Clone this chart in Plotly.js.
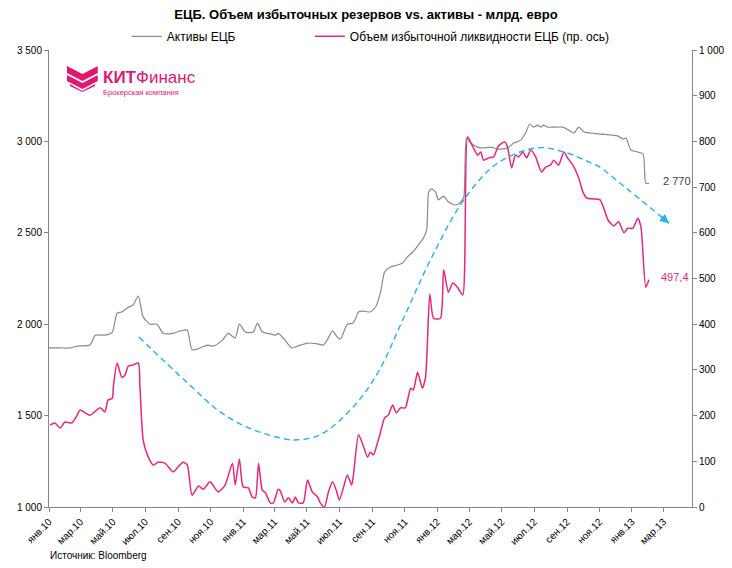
<!DOCTYPE html>
<html>
<head>
<meta charset="utf-8">
<script src="https://cdn.plot.ly/plotly-3.0.1.min.js"></script>
<style>html,body{margin:0;padding:0;background:#fff}#chart{width:732px;height:568px}</style>
</head>
<body>
<div id="chart"></div>
<script>
// ---- Data (млрд. евро) ----
const assetDates = ['2010-01-01','2010-01-22','2010-02-10','2010-02-23','2010-03-19','2010-03-29','2010-04-16','2010-04-30','2010-05-09','2010-05-18','2010-05-28','2010-06-08','2010-06-18','2010-06-27','2010-07-10','2010-07-23','2010-08-04','2010-08-22','2010-09-05','2010-09-18','2010-09-27','2010-10-12','2010-10-26','2010-11-06','2010-11-23','2010-12-04','2010-12-17','2010-12-25','2011-01-05','2011-01-20','2011-01-28','2011-02-06','2011-02-17','2011-03-03','2011-03-08','2011-03-21','2011-04-02','2011-04-13','2011-05-02','2011-05-21','2011-06-01','2011-06-08','2011-06-18','2011-06-27','2011-07-03','2011-07-16','2011-07-27','2011-08-06','2011-08-15','2011-08-28','2011-09-07','2011-09-16','2011-09-24','2011-10-05','2011-10-18','2011-10-28','2011-11-06','2011-11-16','2011-11-25','2011-12-06','2011-12-12','2011-12-16','2011-12-21','2011-12-29','2012-01-03','2012-01-13','2012-01-22','2012-02-05','2012-02-14','2012-02-20','2012-02-25','2012-03-04','2012-03-17','2012-03-28','2012-04-10','2012-04-24','2012-05-12','2012-05-24','2012-06-06','2012-06-15','2012-06-23','2012-06-30','2012-07-08','2012-07-14','2012-07-19','2012-07-27','2012-08-07','2012-08-24','2012-09-04','2012-09-14','2012-09-23','2012-10-03','2012-10-16','2012-11-04','2012-11-22','2012-12-06','2012-12-15','2012-12-21','2012-12-30','2013-01-12','2013-01-22','2013-01-27','2013-02-02'];
const assetValues = [1870,1870,1870,1880,1886,1940,1940,1957,2060,2067,2089,2105,2154,2040,2000,2000,1950,1950,1963,1968,1860,1870,1886,1880,1913,1950,1925,2000,1957,1957,2006,1957,1950,1940,1950,1913,1870,1880,1897,1892,1886,1913,1963,1930,1919,2000,2006,2067,2072,2067,2094,2170,2285,2313,2324,2335,2368,2395,2428,2471,2515,2723,2740,2723,2680,2701,2668,2652,2668,2696,3018,2991,2969,2964,2969,2958,2964,2991,3007,3046,3095,3078,3089,3078,3089,3078,3078,3078,3062,3046,3078,3051,3046,3040,3035,3029,3013,3018,2953,2942,2931,2772,2770];

const liqDates = ['2010-01-03','2010-01-12','2010-01-22','2010-01-31','2010-02-13','2010-02-23','2010-02-28','2010-03-19','2010-04-07','2010-04-16','2010-04-22','2010-04-30','2010-05-02','2010-05-09','2010-05-18','2010-05-24','2010-05-30','2010-06-08','2010-06-18','2010-06-21','2010-06-27','2010-07-05','2010-07-16','2010-07-25','2010-08-07','2010-08-22','2010-09-01','2010-09-10','2010-09-18','2010-09-27','2010-10-09','2010-10-18','2010-10-31','2010-11-15','2010-11-28','2010-12-12','2010-12-17','2010-12-25','2011-01-01','2011-01-11','2011-01-18','2011-01-24','2011-01-30','2011-02-06','2011-02-12','2011-02-21','2011-02-27','2011-03-08','2011-03-12','2011-03-20','2011-03-27','2011-04-04','2011-04-09','2011-04-15','2011-04-24','2011-05-02','2011-05-11','2011-05-21','2011-05-26','2011-06-03','2011-06-10','2011-06-18','2011-06-25','2011-07-01','2011-07-09','2011-07-16','2011-07-24','2011-07-27','2011-08-06','2011-08-13','2011-08-23','2011-08-28','2011-09-03','2011-09-11','2011-09-16','2011-09-24','2011-10-01','2011-10-09','2011-10-16','2011-10-24','2011-11-02','2011-11-12','2011-11-17','2011-11-25','2011-12-04','2011-12-10','2011-12-18','2011-12-25','2012-01-07','2012-01-13','2012-01-22','2012-01-30','2012-02-08','2012-02-18','2012-02-27','2012-03-08','2012-03-17','2012-03-23','2012-03-28','2012-04-07','2012-04-16','2012-04-25','2012-05-07','2012-05-12','2012-05-20','2012-05-27','2012-06-02','2012-06-10','2012-06-17','2012-06-25','2012-07-04','2012-07-15','2012-07-23','2012-08-01','2012-08-07','2012-08-16','2012-08-26','2012-09-02','2012-09-12','2012-09-23','2012-10-01','2012-10-08','2012-10-21','2012-11-02','2012-11-09','2012-11-17','2012-11-28','2012-12-07','2012-12-17','2012-12-24','2013-01-03','2013-01-12','2013-01-18','2013-01-27','2013-02-02'];
const liqValues = [179,184,173,186,184,201,212,201,217,208,234,238,263,315,284,289,308,311,315,263,147,114,92,98,96,77,88,98,92,26,46,39,55,33,48,96,48,105,44,42,22,20,96,37,31,9,9,39,35,11,20,9,22,9,9,59,33,22,9,0,31,55,37,15,44,70,48,66,158,140,109,120,114,142,162,195,201,223,206,217,217,260,256,295,260,284,466,413,413,519,470,490,481,464,810,788,770,777,759,764,766,790,799,788,742,770,766,777,764,781,766,733,744,748,759,748,777,764,748,720,689,676,674,672,654,628,615,624,600,610,610,632,613,481,497.4];

// hand-drawn trend arrow (right axis units)
const trendDates = ['2010-06-19','2010-09-18','2010-11-19','2011-01-20','2011-03-25','2011-04-13','2011-05-26','2011-07-27','2011-09-11','2011-10-30','2011-12-19','2012-02-20','2012-04-24','2012-07-08','2012-08-26','2012-10-16','2012-11-04','2012-12-07','2013-01-05','2013-03-12'];
const trendValues = [372,272,208,169,148,147,158,219,293,414,540,672,753,786,777,753,742,711,684,621];

const tickDates = ['2010-01-01','2010-03-01','2010-05-01','2010-07-01','2010-09-01','2010-11-01','2011-01-01','2011-03-01','2011-05-01','2011-07-01','2011-09-01','2011-11-01','2012-01-01','2012-03-01','2012-05-01','2012-07-01','2012-09-01','2012-11-01','2013-01-01','2013-03-01'];
const tickLabels = ['янв.10','мар.10','май.10','июл.10','сен.10','ноя.10','янв.11','мар.11','май.11','июл.11','сен.11','ноя.11','янв.12','мар.12','май.12','июл.12','сен.12','ноя.12','янв.13','мар.13'];

const seriesNames = ['Активы ЕЦБ', 'Объем избыточной ликвидности ЕЦБ (пр. ось)'];

// ---- Styling ----
const FONT = 'Liberation Sans, Arial, sans-serif';
const GRAY = '#8a8a8a';
const PINK = '#e8267c';
const BLUE = '#22b2ec';
const AXIS = '#868686';

function fmt(v) {
  const s = String(v).split('.');
  const int = s[0].replace(/\B(?=(\d{3})+(?!\d))/g, ' ');
  return s.length > 1 ? int + ',' + s[1] : int;
}

const lastA = assetValues.length - 1;
const lastL = liqValues.length - 1;
const lastT = trendValues.length - 1;

const traces = [
  {x: assetDates, y: assetValues, name: seriesNames[0], type: 'scatter', mode: 'lines', legendwidth: 138,
   line: {color: GRAY, width: 1.2, shape: 'spline', smoothing: 0.6}, yaxis: 'y', hoverinfo: 'skip'},
  {x: liqDates, y: liqValues, name: seriesNames[1], type: 'scatter', mode: 'lines', legendwidth: 280,
   line: {color: PINK, width: 1.5, shape: 'spline', smoothing: 0.6}, yaxis: 'y2', hoverinfo: 'skip'},
  {x: trendDates, y: trendValues, type: 'scatter', mode: 'lines', showlegend: false,
   line: {color: BLUE, width: 1.4, dash: '6px,4px', shape: 'spline', smoothing: 1}, yaxis: 'y2', hoverinfo: 'skip'}
];

const logoSvg = '<svg xmlns="http://www.w3.org/2000/svg" viewBox="0 0 32 26">' +
  '<path fill="#e2176f" d="M0,0 L16,8 L32,0 L32,7 L16,15 L0,7 Z"/>' +
  '<path fill="#e2176f" d="M0,9 L16,17 L32,9 L32,15 L16,23 L0,15 Z"/>' +
  '<path fill="#e2176f" d="M3,18 L16,25 L29,18 L29,20 L16,26 L3,20 Z"/>' +
  '</svg>';

const layout = {
  width: 732, height: 568,
  margin: {l: 49, r: 40, t: 50, b: 61},
  paper_bgcolor: '#fff', plot_bgcolor: '#fff',
  separators: ', ',
  font: {family: FONT, size: 10, color: '#000'},
  title: {text: '<b>ЕЦБ. Объем избыточных резервов vs. активы - млрд. евро</b>',
          font: {family: FONT, size: 13, color: '#000'},
          x: 0.5, xref: 'container', y: 0.975, yref: 'container', yanchor: 'middle'},
  showlegend: true,
  legend: {orientation: 'h', x: 0.121, xanchor: 'left', y: 1.03, yanchor: 'middle',
           font: {family: FONT, size: 12, color: '#000'}, bgcolor: 'rgba(0,0,0,0)'},
  xaxis: {type: 'date', range: ['2010-01-01', '2013-04-24'],
          tickvals: tickDates, ticktext: tickLabels, tickangle: -45,
          ticks: 'outside', ticklen: 4, tickcolor: AXIS, showline: true, linecolor: AXIS, linewidth: 1,
          showgrid: false, zeroline: false, tickfont: {family: FONT, size: 10, color: '#000'}},
  yaxis: {range: [1000, 3500], tick0: 1000, dtick: 500, tickformat: ',',
          ticks: 'outside', ticklen: 4, tickcolor: AXIS, showline: true, linecolor: AXIS, linewidth: 1,
          showgrid: false, zeroline: false, tickfont: {family: FONT, size: 10, color: '#000'}},
  yaxis2: {range: [0, 1000], tick0: 0, dtick: 100, tickformat: ',', overlaying: 'y', side: 'right',
           ticks: 'outside', ticklen: 4, tickcolor: AXIS, showline: true, linecolor: AXIS, linewidth: 1,
           showgrid: false, zeroline: false, tickfont: {family: FONT, size: 10, color: '#000'}},
  images: [{source: 'data:image/svg+xml;utf8,' + encodeURIComponent(logoSvg),
            xref: 'paper', yref: 'paper', x: 0.028, y: 0.965, sizex: 0.048, sizey: 0.057,
            xanchor: 'left', yanchor: 'top', sizing: 'stretch', layer: 'above'}],
  annotations: [
    {xref: 'paper', yref: 'paper', x: 0.081, y: 0.939, xanchor: 'left', yanchor: 'middle', showarrow: false,
     text: '<b>КИТ</b>Финанс', font: {family: FONT, size: 17, color: '#e2176f'}},
    {xref: 'paper', yref: 'paper', x: 0.081, y: 0.906, xanchor: 'left', yanchor: 'middle', showarrow: false,
     text: 'Брокерская компания', font: {family: FONT, size: 7.5, color: '#e2176f'}},
    {x: assetDates[lastA], y: assetValues[lastA], xref: 'x', yref: 'y', xanchor: 'left', yanchor: 'middle',
     xshift: 12, yshift: 2, showarrow: false, text: fmt(assetValues[lastA]),
     font: {family: FONT, size: 11, color: '#404040'}},
    {x: liqDates[lastL], y: liqValues[lastL], xref: 'x', yref: 'y2', xanchor: 'left', yanchor: 'middle',
     xshift: 10, yshift: 3, showarrow: false, text: fmt(liqValues[lastL]),
     font: {family: FONT, size: 11, color: PINK}},
    {x: trendDates[lastT], y: trendValues[lastT], xref: 'x', yref: 'y2', showarrow: true, text: '',
     ax: -10, ay: -8, arrowhead: 2, arrowsize: 1.3, arrowwidth: 1.4, arrowcolor: BLUE},
    {xref: 'paper', yref: 'paper', x: -0.002, y: -0.107, xanchor: 'left', yanchor: 'middle', showarrow: false,
     text: 'Источник: Bloomberg', font: {family: FONT, size: 10, color: '#000'}}
  ]
};

Plotly.newPlot('chart', traces, layout, {staticPlot: true, displayModeBar: false});
</script>
</body>
</html>
